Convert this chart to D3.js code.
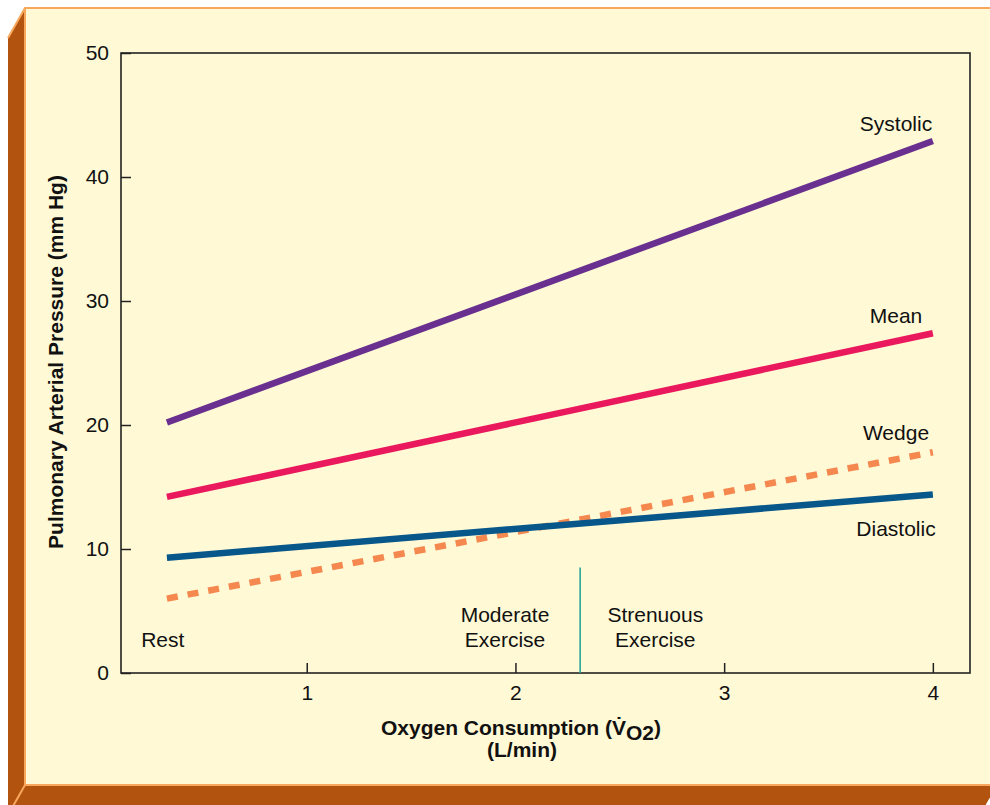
<!DOCTYPE html>
<html>
<head>
<meta charset="utf-8">
<script src="https://cdn.jsdelivr.net/npm/d3@7"></script>
<style>
  html, body { margin: 0; padding: 0; background: #ffffff; }
  svg { display: block; }
  text { font-family: "Liberation Sans", Arial, Helvetica, sans-serif; fill: #111; }
</style>
</head>
<body>
<svg id="chart" width="990" height="805"></svg>
<script>
// ---- Data ----
const xTicks = [1, 2, 3, 4];
const yTicks = [0, 10, 20, 30, 40, 50];
const seriesNames = ["Systolic", "Mean", "Wedge", "Diastolic"];
const xValues = [0.33, 4.0];
const systolic = [20.2, 42.9];
const mean = [14.2, 27.4];
const wedge = [6.0, 17.8];
const diastolic = [9.3, 14.4];
const phaseLabels = ["Rest", "Moderate|Exercise", "Strenuous|Exercise"];
const phaseX = [0.31, 1.95, 2.67];
const boundaryX = 2.31;
const boundaryTop = 8.5;

// ---- Layout ----
const FS = 21;
const svg = d3.select("#chart");
const L = 121, R = 970, T = 53, B = 673;
const x = d3.scaleLinear().domain([0.11, 4.178]).range([L, R]);
const y = d3.scaleLinear().domain([0, 50]).range([B, T]);

// ---- Background panel with 3D edge ----
svg.append("polygon")
  .attr("points", "25,8 8,38 8,815 980,815 997,785 997,8")
  .attr("fill", "#b2530f");
svg.append("rect")
  .attr("x", 25).attr("y", 8).attr("width", 972).attr("height", 777)
  .attr("fill", "#fff9d6");
svg.append("path")
  .attr("d", "M8,38 L25,8 L997,8 M25,8 L25,785 L997,785 M25,785 L8,815")
  .attr("fill", "none").attr("stroke", "#f8a85c").attr("stroke-width", 2);

const g = svg.append("g");

// ---- Axes ----
const xAxis = d3.axisBottom(x).tickValues(xTicks).tickFormat(d3.format("d"))
  .tickSizeInner(-10).tickSizeOuter(0).tickPadding(12);
const gx = g.append("g").attr("transform", `translate(0,${B})`).call(xAxis);
gx.select(".domain").remove();
gx.selectAll("line").attr("stroke", "#222").attr("stroke-width", 1.5);
gx.selectAll("text").attr("font-size", FS).attr("fill", "#111")
  .attr("font-family", "Liberation Sans, Arial, sans-serif");

const yAxis = d3.axisLeft(y).tickValues(yTicks).tickFormat(d3.format("d"))
  .tickSizeInner(-10).tickSizeOuter(0).tickPadding(12);
const gy = g.append("g").attr("transform", `translate(${L},0)`).call(yAxis);
gy.select(".domain").remove();
gy.selectAll("line").attr("stroke", "#222").attr("stroke-width", 1.5);
gy.selectAll("text").attr("font-size", FS).attr("fill", "#111")
  .attr("font-family", "Liberation Sans, Arial, sans-serif");

// Frame
g.append("rect")
  .attr("x", L).attr("y", T).attr("width", R - L).attr("height", B - T)
  .attr("fill", "none").attr("stroke", "#222").attr("stroke-width", 1.6);

// ---- Boundary line ----
g.append("line")
  .attr("x1", x(boundaryX)).attr("x2", x(boundaryX))
  .attr("y1", y(boundaryTop)).attr("y2", y(0))
  .attr("stroke", "#2aa596").attr("stroke-width", 1.6);

// ---- Series lines ----
const series = [
  { name: "Systolic", values: systolic, color: "#69308f", dash: null, ly: 131 },
  { name: "Mean", values: mean, color: "#ea185c", dash: null, ly: 323 },
  { name: "Wedge", values: wedge, color: "#f5884f", dash: "11,10", ly: 440 },
  { name: "Diastolic", values: diastolic, color: "#07578a", dash: null, ly: 536 }
];
const line = d3.line().x(d => x(d[0])).y(d => y(d[1]));
series.forEach(s => {
  const pts = xValues.map((xv, i) => [xv, s.values[i]]);
  g.append("path")
    .attr("d", line(pts))
    .attr("fill", "none")
    .attr("stroke", s.color)
    .attr("stroke-width", 6.5)
    .attr("stroke-linecap", "butt")
    .attr("stroke-dasharray", s.dash);
  g.append("text")
    .attr("x", 896).attr("y", s.ly)
    .attr("text-anchor", "middle")
    .attr("font-size", FS)
    .text(s.name);
});

// ---- Phase labels ----
phaseLabels.forEach((lab, i) => {
  const lines = lab.split("|");
  const t = g.append("text")
    .attr("text-anchor", "middle")
    .attr("font-size", FS);
  const baseY = lines.length === 1 ? 647 : 622;
  lines.forEach((ln, j) => {
    t.append("tspan").attr("x", x(phaseX[i])).attr("y", baseY + j * 25).text(ln);
  });
});

// ---- Axis titles ----
const xt = g.append("text")
  .attr("x", 521).attr("y", 735)
  .attr("text-anchor", "middle")
  .attr("font-size", FS).attr("font-weight", "bold");
xt.append("tspan").text("Oxygen Consumption (V\u0307");
xt.append("tspan").attr("dy", 5).text("O2");
xt.append("tspan").attr("dy", -5).text(")");
g.append("text")
  .attr("x", 522).attr("y", 757)
  .attr("text-anchor", "middle")
  .attr("font-size", FS).attr("font-weight", "bold")
  .text("(L/min)");

g.append("text")
  .attr("transform", "translate(63,362) rotate(-90)")
  .attr("text-anchor", "middle")
  .attr("font-size", FS).attr("font-weight", "bold")
  .text("Pulmonary Arterial Pressure (mm Hg)");
</script>
</body>
</html>
